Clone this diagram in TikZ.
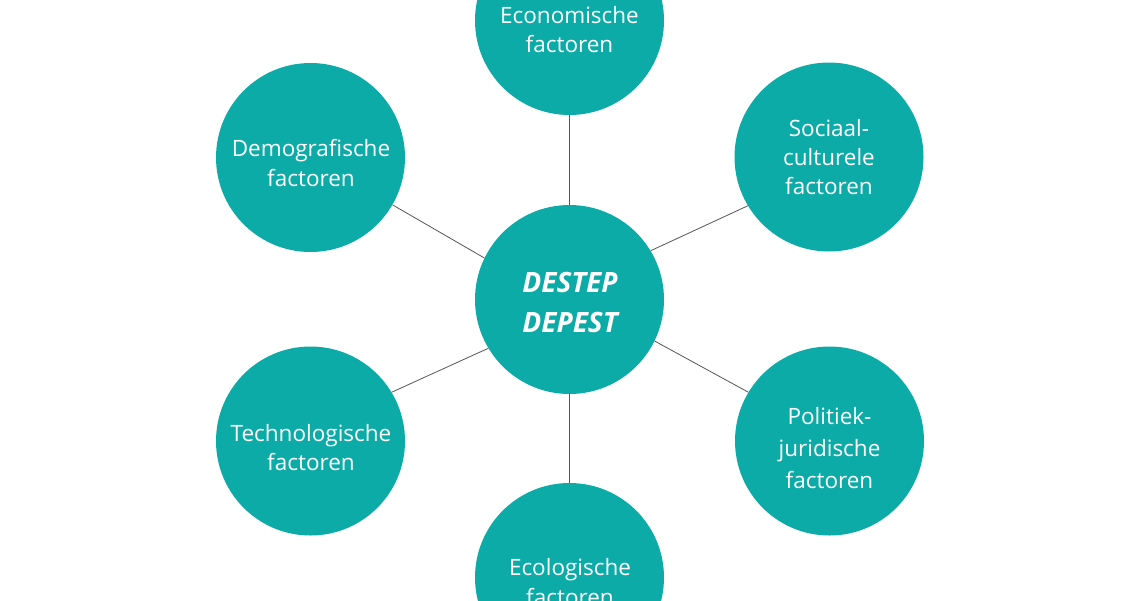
\documentclass[tikz,border=0pt]{standalone}
\usepackage{fontspec}
\setmainfont{Open Sans}
\definecolor{teal1}{RGB}{12,171,168}
\definecolor{linegray}{RGB}{85,85,85}
\begin{document}
\begin{tikzpicture}[x=1pt,y=-1pt,
  fac/.style={circle, fill=teal1, minimum size=189pt, inner sep=0pt},
  lbl/.style={text=white, align=center, inner sep=0pt, font=\fontsize{22.5}{29.5}\selectfont},
  mainlbl/.style={text=white, align=center, inner sep=0pt, font=\fontsize{28}{40}\selectfont\bfseries\itshape},
  conn/.style={draw=linegray, line width=0.8pt}]
\useasboundingbox[fill=white] (0,0) rectangle (1140,600);
\node[fac] (c) at (569.5,299.5) {};
\node[fac] (eco) at (569.5,20.5) {};
\node[fac] (dem) at (310.5,157.5) {};
\node[fac] (soc) at (829,157) {};
\node[fac] (tec) at (310.5,441) {};
\node[fac] (pol) at (829.5,441) {};
\node[fac] (ecl) at (569.5,577.5) {};
\node[mainlbl] (tc) at (570,302) {DESTEP\\DEPEST};
\node[lbl] (teco) at (569.5,29.4) {Economische\\factoren};
\node[lbl] (tdem) at (311,163.2) {Demografische\\factoren};
\node[lbl, font=\fontsize{22.5}{29}\selectfont] (tsoc) at (829,156.6) {Sociaal-\\culturele\\factoren};
\node[lbl, font=\fontsize{22.5}{29}\selectfont] (ttec) at (311,447.6) {Technologische\\factoren};
\node[lbl, font=\fontsize{22.5}{31.7}\selectfont] (tpol) at (829.5,448.1) {Politiek-\\juridische\\factoren};
\node[lbl] (tecl) at (570,582.2) {Ecologische\\factoren};
\draw[conn] (c.north) -- (eco.south);
\draw[conn] (dem.-30.8) -- (c.154.9);
\draw[conn] (c.31) -- (soc.211.1);
\draw[conn] (c.-26.4) -- (pol.149.5);
\draw[conn] (tec.31) -- (c.211);
\draw[conn] (c.south) -- (ecl.north);
\end{tikzpicture}
\end{document}
